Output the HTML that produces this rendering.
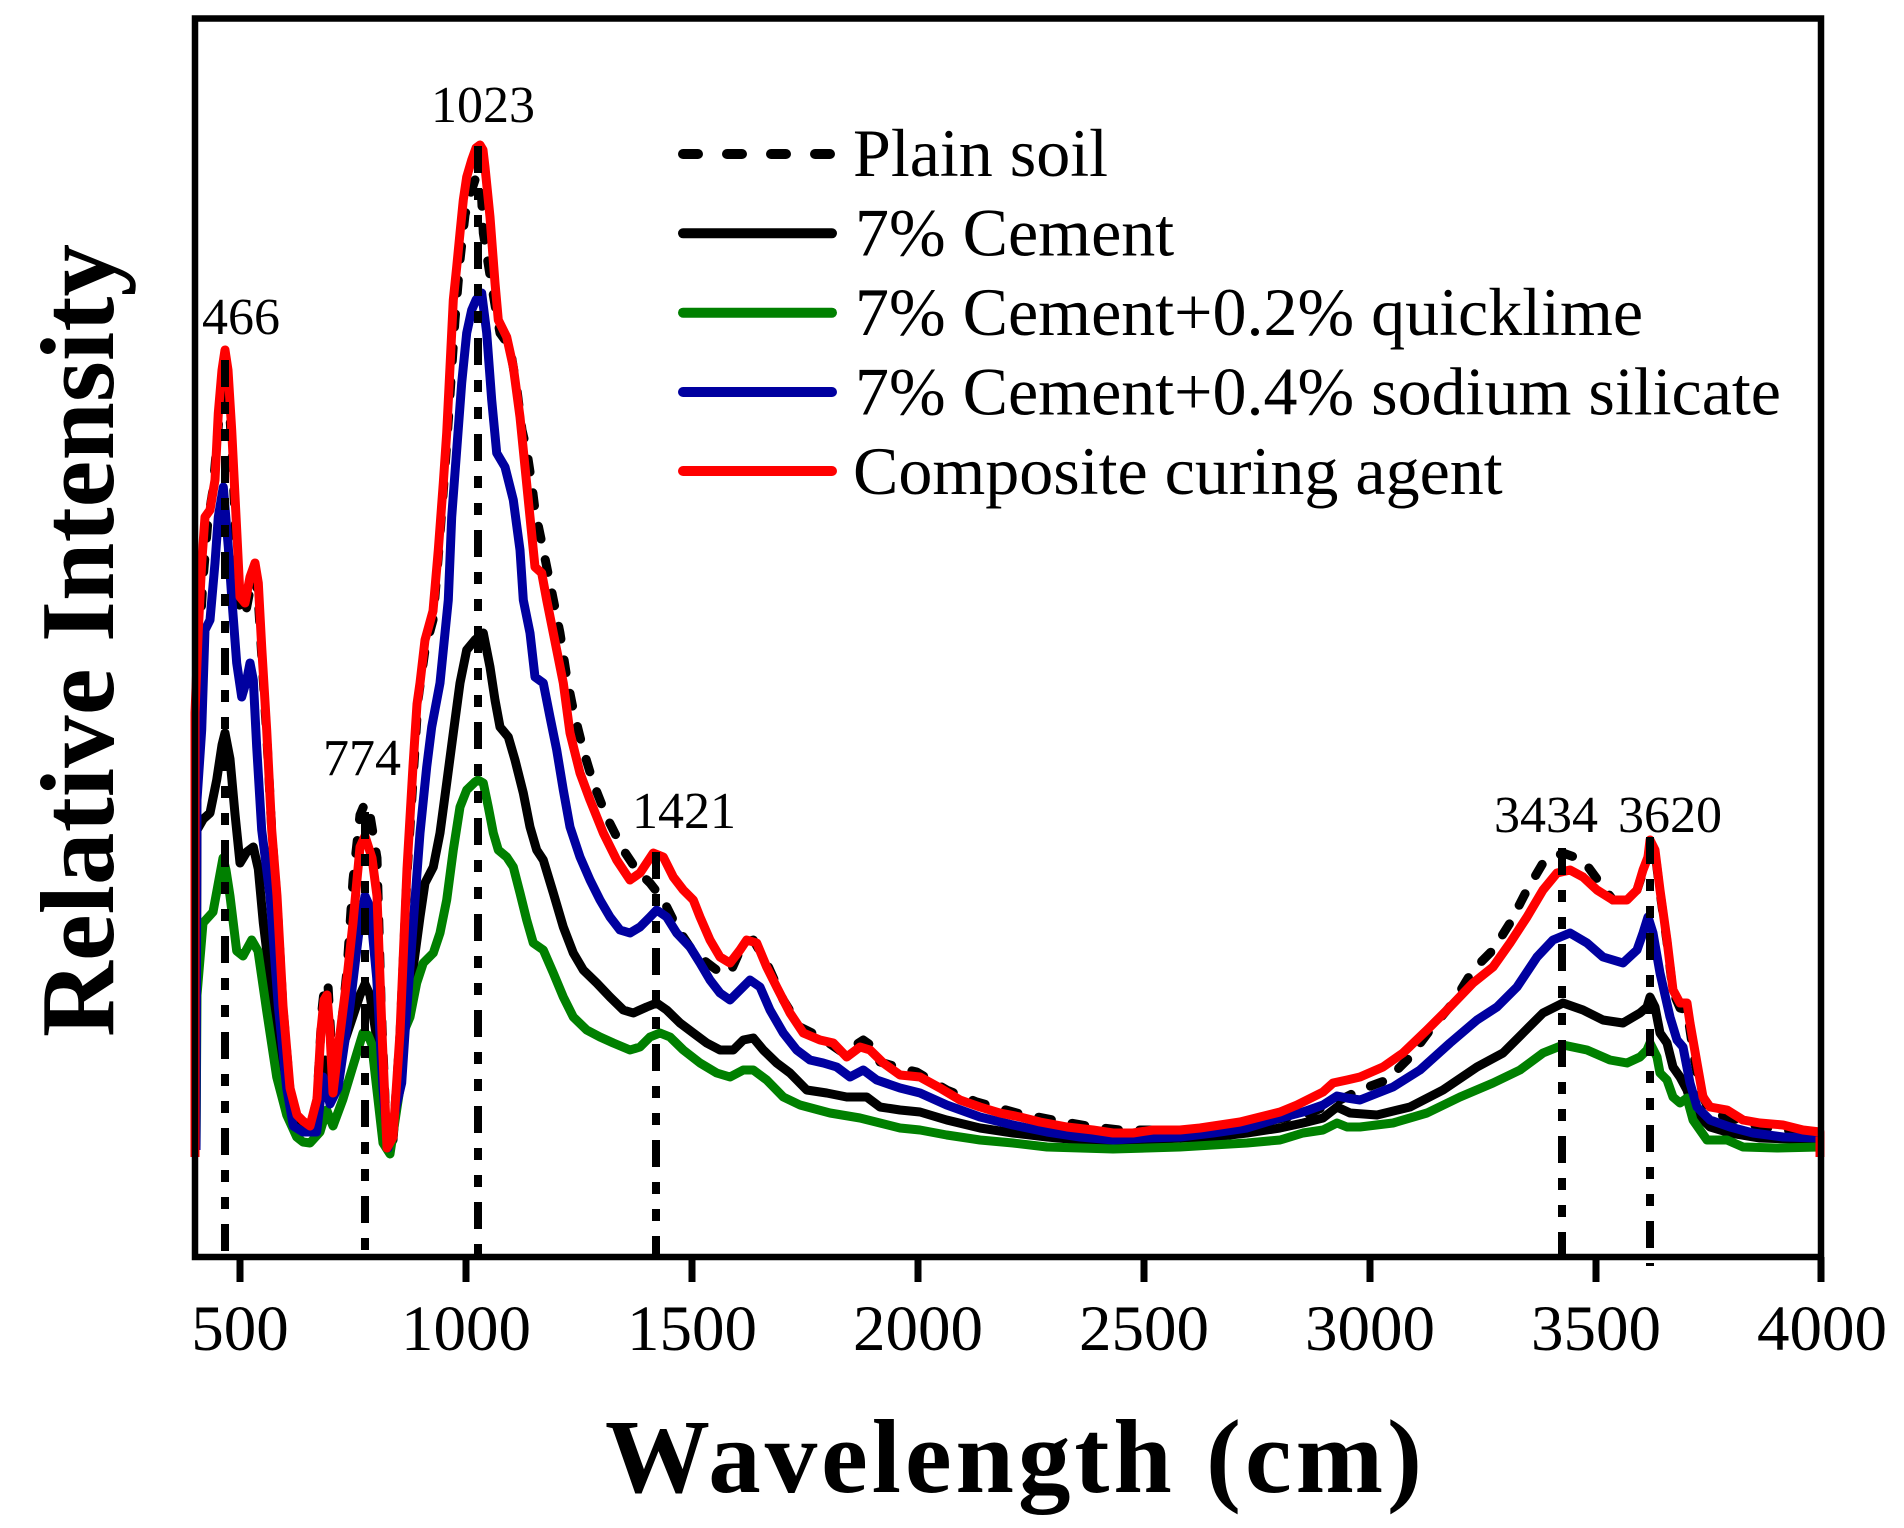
<!DOCTYPE html>
<html>
<head>
<meta charset="utf-8">
<style>
html,body{margin:0;padding:0;background:#fff;}
svg{display:block;}
text{font-family:"Liberation Serif","Times New Roman",serif;fill:#000;}
</style>
</head>
<body>
<svg width="1904" height="1528" viewBox="0 0 1904 1528" xmlns="http://www.w3.org/2000/svg">
<rect x="0" y="0" width="1904" height="1528" fill="#fff"/>

<!-- Curves -->
<g fill="none" stroke-linejoin="round" stroke-width="9">
<!-- Plain soil (dashed) -->
<polyline stroke="#000" stroke-dasharray="13 21" stroke-linecap="round" points="195,1150 196,760 199,650 203,580 208,520 213,490 218,430 222,380 225,362 228,385 232,450 236,540 240,610 245,616 250,590 255,575 258,595 262,660 267,740 272,835 277,900 283,1008 290,1090 297,1117 303,1123 310,1127 317,1100 322,1010 325,982 328,985 331,1040 334,1090 340,1040 347,970 353,880 360,815 365,803 370,815 377,858 381,1000 387,1148 393,1137 400,1035 407,875 413,780 418,700 425,650 433,620 438,560 443,495 447,440 451,380 455,320 460,260 465,215 470,195 475,180 478,177 481,185 483.3,233 490,275 495,305 500,333 510,347 517,390 522,430 526.7,450 531.7,483 535,510 543.3,550 550,583 560,633 566.7,677 573.3,710 583.3,750 593.3,783 606.7,817 623.3,850 636.7,870 650,883 663.3,900 676.7,927 690,947 703.3,960 716.7,970 730,973 743.3,943 753.3,940 766.7,963 783.3,1000 800,1027 820,1037 843.3,1053 863.3,1040 873.3,1047 880,1062 900,1068 916.7,1072 946.7,1090 976.7,1102 1016.7,1113 1053,1120 1093,1127 1120,1130 1150,1130 1180,1131 1220,1128 1260,1122 1290,1117 1310,1113 1340,1100 1360,1090 1387,1080 1410,1057 1430,1030 1453,1003 1473,970 1493,950 1510,923 1527,890 1543,863 1563,853 1583,860 1600,883 1613,900 1627,900 1637,890 1643,872 1648,858 1650,845 1655,852 1660,892 1667,942 1673,992 1680,1008 1687,1010 1693,1050 1700,1090 1710,1112 1727,1117 1760,1127 1800,1132 1820,1135"/>

<!-- 7% Cement (black solid) -->
<polyline stroke="#000" points="196,1150 197,830 203.3,819 210,813 216.7,780 222,745 225,733 230,759 235,814 240,863 246.7,852 253.3,847 258.3,869 263.3,923 270,978 276.7,1033 286.7,1088 293,1120 303,1130 316,1130 320,1100 325,1060 330,1095 336,1080 345,1040 355,1010 360,995 365,984 370,995 377,1040 382,1100 387,1148 393,1140 397,1088 403,1030 406.7,1017 413.3,967 420,917 425,883 433.3,867 440,833 446.7,783 453.3,733 460,683 466.7,650 475,640 483.3,633 490,667 495,700 500,727 508.3,737 515,760 523.3,793 530,827 536.7,850 543.3,860 553.3,893 563.3,927 573.3,953 583.3,970 596.7,983 610,997 623.3,1010 633.3,1013 646.7,1007 656.7,1003 666.7,1010 680,1023 693.3,1033 706.7,1043 720,1050 733.3,1050 743.3,1040 753.3,1038 763.3,1050 776.7,1063 790,1073 806.7,1090 826.7,1093 846.7,1097 866.7,1097 880,1107 900,1110 920,1112 946.7,1120 980,1128 1013,1133 1047,1137 1080,1140 1113,1142 1147,1140 1180,1138 1213,1137 1247,1133 1280,1128 1303,1123 1323,1118 1337,1107 1350,1113 1377,1115 1410,1107 1443,1090 1477,1067 1503,1053 1523,1033 1543,1013 1563,1003 1583,1010 1603,1020 1623,1023 1640,1013 1647,1007 1650,997 1655,1007 1660,1033 1667,1043 1673,1067 1680,1077 1687,1090 1693,1110 1710,1127 1730,1133 1760,1138 1820,1140"/>

<!-- 7% Cement + 0.2% quicklime (green) -->
<polyline stroke="#008000" points="196,1150 197,995 203,923 213,912 218,885 223,858 226,870 230,896 236.7,951 243,956 251.7,940 258,951 266.7,1011 276.7,1077 286.7,1115 296.7,1137 303,1142 310,1143 320,1132 326.7,1110 333,1126 343,1099 353,1066 363,1033 368,1035 371.7,1044 376.7,1088 383,1143 390,1154 400,1088 403.3,1033 410,1017 416.7,983 423.3,963 433.3,953 440,933 446.7,900 453.3,850 460,807 466.7,790 475,782 478,780 483.3,783 488.3,807 493.3,833 498.3,850 506.7,857 513.3,867 520,893 526.7,920 533.3,943 543.3,950 553.3,973 563.3,997 573.3,1017 586.7,1030 600,1037 613.3,1043 630,1050 640,1047 650,1037 660,1033 670,1037 683.3,1050 700,1063 716.7,1073 730,1077 743.3,1070 753.3,1070 766.7,1080 783.3,1097 800,1105 830,1113 860,1118 880,1123 900,1128 920,1130 946.7,1135 980,1140 1013,1143 1047,1147 1080,1148 1113,1149 1147,1148 1180,1147 1213,1145 1247,1143 1280,1140 1303,1133 1323,1130 1337,1123 1347,1127 1360,1127 1393,1123 1427,1113 1460,1097 1493,1083 1520,1070 1543,1053 1563,1045 1587,1050 1610,1060 1627,1063 1640,1057 1647,1050 1650,1043 1657,1057 1660,1073 1667,1080 1673,1097 1680,1103 1687,1098 1693,1120 1707,1140 1727,1140 1743,1147 1777,1148 1820,1147"/>

<!-- 7% Cement + 0.4% sodium silicate (blue) -->
<polyline stroke="#0000a0" points="196,1150 197,800 201.7,730 205,630 210,620 215,563 218.3,517 223.3,487 228.3,547 231.7,597 236.7,663 241.7,697 246.7,680 250,663 253.3,680 256.7,747 261.7,830 270,896 278.3,1006 286.7,1088 293.3,1126 303,1132 316.7,1132 323,1077 330,1104 338,1088 350,1006 360,923 365,896 370,907 376.7,978 383,1088 388,1148 396.7,1104 401.7,1083 405,1033 410,967 415,900 420,833 426.7,767 431.7,727 440,683 448.3,600 451.7,517 456.7,450 461.7,383 466.7,333 471.7,310 476,300 481.7,293 486.7,333 491.7,400 496.7,453 505,467 513.3,500 520,550 523.3,600 530,633 535,677 543.3,683 550,717 556.7,750 563.3,790 570,827 580,857 590,880 600,900 610,917 620,930 630,933 640,927 650,917 656.7,910 666.7,917 676.7,933 690,947 700,963 710,980 720,993 730,1000 740,990 750,980 760,987 770,1010 783.3,1033 796.7,1050 810,1060 823.3,1063 836.7,1067 850,1077 863.3,1070 876.7,1080 900,1088 920,1093 946.7,1105 980,1117 1013,1125 1047,1132 1080,1137 1113,1140 1147,1138 1180,1137 1213,1133 1247,1128 1280,1118 1303,1112 1323,1105 1337,1096 1347,1098 1360,1100 1393,1087 1420,1070 1450,1043 1477,1020 1497,1007 1517,987 1537,957 1553,940 1570,933 1587,943 1603,957 1623,963 1637,950 1643,933 1648,917 1653,933 1660,973 1670,1017 1677,1040 1683,1047 1690,1083 1697,1107 1710,1120 1730,1127 1753,1133 1783,1137 1820,1138"/>

<!-- Composite curing agent (red) -->
<polyline stroke="#ff0000" points="195,1157 195,713 198.3,630 201.7,563 205,517 210,510 215,480 218.3,413 222,370 225,350 228,370 231.7,430 236.7,530 240,597 245,603 250,577 255,563 258.3,583 261.7,647 266.7,730 271.7,830 277,896 283,1006 290,1088 297,1115 303,1121 310,1126 317,1099 321,1030 324,1000 327,995 330,1033 333,1093 338,1050 347,978 353,923 360,847 365,836 372,858 377,896 382,1033 387,1148 393,1137 400,1033 407,869 413,766 417,704 420,683 425,640 433,611 438.3,550 443.3,483 446.7,433 450,367 453.3,300 456.7,267 460,233 463.3,200 466.7,177 471.7,160 476,148 480,145 483,150 485,167 490,217 495,283 498.3,320 506.7,337 513.3,367 520,417 525,467 530,517 535,567 541.7,573 546.7,600 556.7,650 563.3,683 570,733 580,773 590,800 603.3,833 616.7,860 630,880 640,873 653.3,853 663.3,857 673.3,877 683.3,890 693.3,900 700,917 710,940 720,957 730,963 740,950 746.7,940 756.7,943 766.7,967 776.7,987 790,1013 803.3,1033 820,1040 833.3,1043 846.7,1057 860,1047 870,1050 883.3,1063 900,1075 920,1077 940,1088 960,1100 980,1107 1000,1113 1020,1117 1040,1122 1067,1127 1093,1130 1113,1133 1133,1133 1153,1130 1180,1130 1200,1128 1220,1125 1240,1122 1260,1117 1280,1112 1297,1105 1307,1100 1323,1092 1333,1083 1347,1080 1360,1077 1383,1067 1403,1053 1427,1030 1450,1007 1473,983 1493,967 1510,943 1527,917 1543,890 1557,873 1570,870 1583,877 1597,890 1613,900 1627,900 1637,890 1643,870 1648,857 1650,840 1655,850 1660,890 1667,940 1673,990 1680,1003 1687,1003 1690,1023 1697,1063 1703,1097 1710,1107 1727,1110 1743,1120 1760,1123 1783,1125 1803,1130 1820,1132 1820,1157"/>
</g>

<!-- Vertical marker lines (dash-dot-dot) -->
<g stroke="#000" stroke-width="8" stroke-dasharray="27 15 12 15 12 15" fill="none">
<line x1="225" y1="360" x2="225" y2="1256"/>
<line x1="365" y1="812" x2="365" y2="1262"/>
<line x1="478" y1="146" x2="478" y2="1256"/>
<line x1="656" y1="852" x2="656" y2="1256"/>
<line x1="1562" y1="848" x2="1562" y2="1262"/>
<line x1="1650" y1="837" x2="1650" y2="1266"/>
</g>

<!-- Axes frame -->
<rect x="195" y="18.5" width="1626" height="1238.5" fill="none" stroke="#000" stroke-width="6.5"/>

<!-- X ticks -->
<g stroke="#000" stroke-width="7">
<line x1="240" y1="1257" x2="240" y2="1282"/>
<line x1="466" y1="1257" x2="466" y2="1282"/>
<line x1="692" y1="1257" x2="692" y2="1282"/>
<line x1="918" y1="1257" x2="918" y2="1282"/>
<line x1="1144" y1="1257" x2="1144" y2="1282"/>
<line x1="1370" y1="1257" x2="1370" y2="1282"/>
<line x1="1596" y1="1257" x2="1596" y2="1282"/>
<line x1="1821" y1="1257" x2="1821" y2="1282"/>
</g>

<!-- X tick labels -->
<g font-size="65" text-anchor="middle">
<text x="240" y="1350">500</text>
<text x="466" y="1350">1000</text>
<text x="692" y="1350">1500</text>
<text x="918" y="1350">2000</text>
<text x="1144" y="1350">2500</text>
<text x="1370" y="1350">3000</text>
<text x="1596" y="1350">3500</text>
<text x="1822" y="1350">4000</text>
</g>

<!-- Peak labels -->
<g font-size="52" text-anchor="middle">
<text x="241" y="334">466</text>
<text x="362" y="775">774</text>
<text x="483" y="122">1023</text>
<text x="684" y="828">1421</text>
<text x="1546" y="832">3434</text>
<text x="1670" y="832">3620</text>
</g>

<!-- Axis titles -->
<text x="605" y="1492" font-size="105" font-weight="bold" textLength="817" lengthAdjust="spacing">Wavelength (cm)</text>
<text transform="translate(113,1037) rotate(-90)" x="0" y="0" font-size="105" font-weight="bold" textLength="793" lengthAdjust="spacing">Relative Intensity</text>

<!-- Legend -->
<g fill="none" stroke-width="10" stroke-linecap="round">
<line x1="683" y1="154" x2="832" y2="154" stroke="#000" stroke-dasharray="15 29"/>
<line x1="683" y1="233.3" x2="832" y2="233.3" stroke="#000"/>
<line x1="683" y1="312.7" x2="832" y2="312.7" stroke="#008000"/>
<line x1="683" y1="392" x2="832" y2="392" stroke="#0000a0"/>
<line x1="683" y1="471" x2="832" y2="471" stroke="#ff0000"/>
</g>
<g font-size="68">
<text x="853" y="176">Plain soil</text>
<text x="855" y="255.5">7% Cement</text>
<text x="855" y="335">7% Cement+0.2% quicklime</text>
<text x="855" y="414.5">7% Cement+0.4% sodium silicate</text>
<text x="853" y="494">Composite curing agent</text>
</g>
</svg>
</body>
</html>
